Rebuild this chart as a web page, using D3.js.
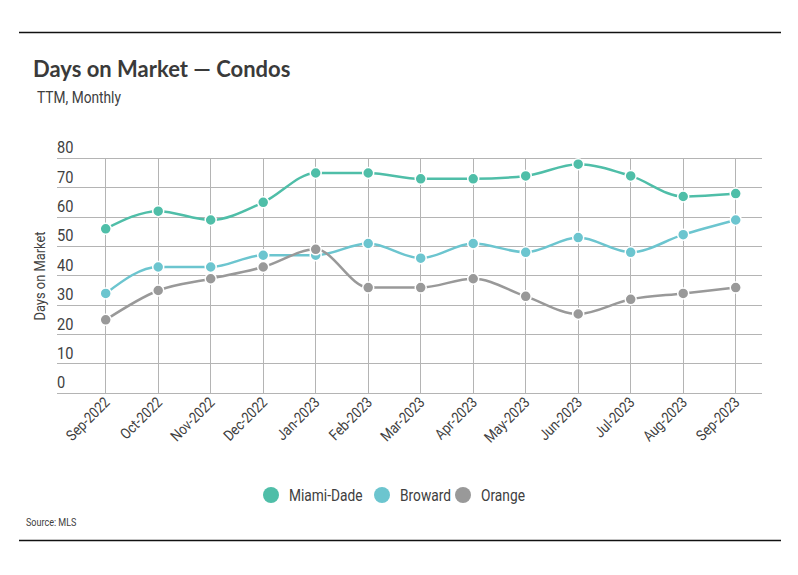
<!doctype html>
<html>
<head>
<meta charset="utf-8">
<style>
	body {
		margin: 0;
		background: #fff;
	}
	text {
		font-family: Roboto, sans-serif;
		fill: #404040;
	}
	.title {
		font: bold 22px Lato, "Open Sans", sans-serif;
		fill: #3a3a3a;
	}
	.grid line {
		stroke: #b4b4b4;
		stroke-width: 1px;
		shape-rendering: crispEdges;
	}
	.series {
		fill: none;
		stroke-width: 2.5px;
	}
	.dot {
		stroke: #fff;
		stroke-width: 1.5px;
	}
</style>
<script src="https://d3js.org/d3.v7.min.js"></script>
</head>
<body>
<div id="canvas"></div>
<script>
	var months = ["Sep-2022", "Oct-2022", "Nov-2022", "Dec-2022", "Jan-2023", "Feb-2023",
		"Mar-2023", "Apr-2023", "May-2023", "Jun-2023", "Jul-2023", "Aug-2023", "Sep-2023"];
	var miami_dade = [56, 62, 59, 65, 75, 75, 73, 73, 74, 78, 74, 67, 68];
	var broward = [34, 43, 43, 47, 47, 51, 46, 51, 48, 53, 48, 54, 59];
	var orange = [25, 35, 39, 43, 49, 36, 36, 39, 33, 27, 32, 34, 36];
	var y_ticks = [0, 10, 20, 30, 40, 50, 60, 70, 80];

	var series = [
		{name: "Miami-Dade", values: miami_dade, color: "#4fbea8"},
		{name: "Broward", values: broward, color: "#6cc5cf"},
		{name: "Orange", values: orange, color: "#999999"}
	];

	var width = 798,
		height = 575,
		plot = {left: 57, right: 762, top: 158.3, bottom: 393.3},
		squeeze = 0.86;   // the original font is a narrow one

	var svg = d3.select("#canvas")
		.append("svg")
		.attr("width", width)
		.attr("height", height);

	// rules top and bottom
	svg.append("line").attr("x1", 19).attr("x2", 781).attr("y1", 32.5).attr("y2", 32.5)
		.attr("stroke", "#111").attr("stroke-width", 1.5);
	svg.append("line").attr("x1", 19).attr("x2", 781).attr("y1", 540.5).attr("y2", 540.5)
		.attr("stroke", "#111").attr("stroke-width", 1.5);

	svg.append("text").attr("class", "title").attr("x", 33).attr("y", 77)
		.text("Days on Market \u2014 Condos");
	svg.append("text").attr("transform", `translate(37, 103) scale(${squeeze}, 1)`)
		.style("font-size", "16px")
		.text("TTM, Monthly");

	var scale_x = d3.scalePoint()
		.domain(months)
		.range([105.7, 735.7]);

	var scale_y = d3.scaleLinear()
		.domain([0, 80])
		.range([plot.bottom, plot.top]);

	var grid = svg.append("g").attr("class", "grid");

	grid.selectAll("line.h")
		.data(y_ticks).enter()
		.append("line")
		.attr("class", "h")
		.attr("x1", plot.left)
		.attr("x2", plot.right)
		.attr("y1", d => scale_y(d))
		.attr("y2", d => scale_y(d));

	grid.selectAll("line.v")
		.data(months).enter()
		.append("line")
		.attr("class", "v")
		.attr("x1", d => scale_x(d))
		.attr("x2", d => scale_x(d))
		.attr("y1", plot.top)
		.attr("y2", plot.bottom);

	svg.selectAll("text.ytick")
		.data(y_ticks).enter()
		.append("text")
		.attr("class", "ytick")
		.attr("transform", d => `translate(${plot.left}, ${scale_y(d) - 5}) scale(${squeeze}, 1)`)
		.style("font-size", "17px")
		.text(d => d);

	svg.selectAll("text.xtick")
		.data(months).enter()
		.append("text")
		.attr("class", "xtick")
		.attr("text-anchor", "end")
		.attr("transform", d => `translate(${scale_x(d) + 5}, ${plot.bottom + 10}) rotate(-45) scale(${squeeze}, 1)`)
		.style("font-size", "15px")
		.text(d => d);

	svg.append("text")
		.attr("transform", `translate(45, 276) rotate(-90) scale(${squeeze}, 1)`)
		.attr("text-anchor", "middle")
		.style("font-size", "15px")
		.text("Days on Market");

	var line = d3.line()
		.x((d, i) => scale_x(months[i]))
		.y(d => scale_y(d))
		.curve(d3.curveMonotoneX);

	var g_series = svg.selectAll("g.s")
		.data(series).enter()
		.append("g")
		.attr("class", "s");

	g_series.append("path")
		.attr("class", "series")
		.attr("stroke", d => d.color)
		.attr("d", d => line(d.values));

	g_series.selectAll("circle")
		.data(d => d.values.map((v, i) => ({v: v, i: i, color: d.color}))).enter()
		.append("circle")
		.attr("class", "dot")
		.attr("cx", d => scale_x(months[d.i]))
		.attr("cy", d => scale_y(d.v))
		.attr("r", 5.5)
		.attr("fill", d => d.color);

	// legend
	var legend_x = [271, 382, 463];
	var lgd = svg.selectAll("g.lgd")
		.data(series).enter()
		.append("g")
		.attr("class", "lgd")
		.attr("transform", (d, i) => `translate(${legend_x[i]}, 495)`);
	lgd.append("circle").attr("r", 8).attr("fill", d => d.color);
	lgd.append("text")
		.attr("transform", `translate(18, 6) scale(${squeeze}, 1)`)
		.style("font-size", "16px")
		.text(d => d.name);

	svg.append("text").attr("transform", `translate(26, 526) scale(${squeeze}, 1)`)
		.style("font-size", "10.5px")
		.text("Source: MLS");
</script>
</body>
</html>
